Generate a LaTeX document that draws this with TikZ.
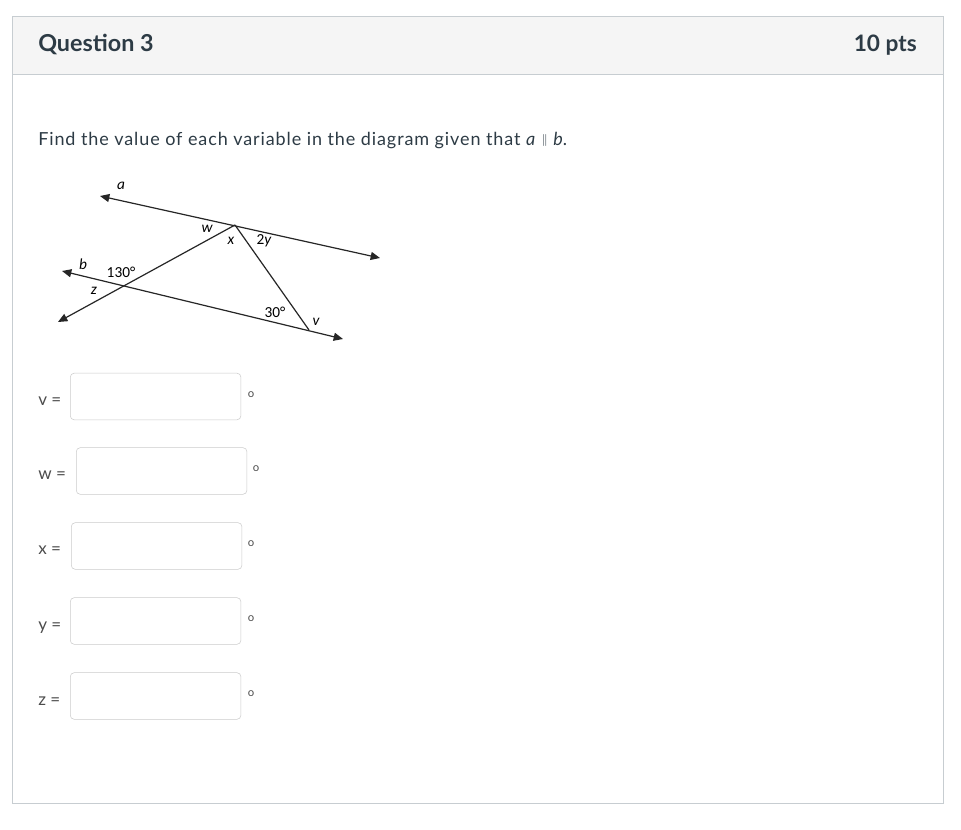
\documentclass[tikz,border=0pt]{standalone}
\usepackage{fontspec}
\setmainfont{Lato}
\newfontfamily\figfont{Carlito}
\newfontfamily\widefont[LetterSpace=5]{Lato}
\usetikzlibrary{arrows.meta}

\definecolor{cardline}{HTML}{C7CDD1}
\definecolor{headfill}{HTML}{F5F5F5}
\definecolor{inktext}{HTML}{2D3B45}
\definecolor{boxline}{HTML}{CBCBCB}

\tikzset{
  figline/.style={line width=0.9pt, black!85},
  tip/.tip={Triangle[length=7pt,width=6pt]},
  anglabel/.style={font=\figfont\fontsize{11.5}{13}\selectfont\itshape, inner sep=0pt},
  ansbox/.style={draw=boxline, rounded corners=3pt, minimum width=128pt, minimum height=35pt, anchor=west, inner sep=0pt},
  anslabel/.style={anchor=base west, inner sep=0pt, text=black!70, font=\fontsize{12.8}{15}\selectfont},
  degmark/.style={inner sep=0pt, text=black!70, font=\fontsize{8.5}{10}\selectfont}
}

\begin{document}
\begin{tikzpicture}[x=0.75pt, y=-0.75pt]
  \useasboundingbox (0,0) rectangle (961,830);

  % card and header
  \fill[white] (0,0) rectangle (961,830);
  \filldraw[fill=headfill, draw=cardline] (12.5,16.5) rectangle (943.5,74.5);
  \draw[cardline] (12.5,74.5) rectangle (943.5,803.5);
  \node[anchor=base west, inner sep=0pt, text=inktext, font=\fontsize{17.5}{20}\selectfont\bfseries] (title) at (38,52) {Question 3};
  \node[anchor=base east, inner sep=0pt, text=inktext, font=\fontsize{17}{20}\selectfont\bfseries] (points) at (917,52) {10 pts};

  \node[anchor=base west, inner sep=0pt, text=inktext, font=\widefont\fontsize{13.5}{15}\selectfont] (prompt) at (38,146)
    {Find the value of each variable in the diagram given that \textit{a} \raisebox{2.2pt}{\fontsize{9}{10}\selectfont$\|$} \textit{b}.};

  % diagram
  \coordinate (a-left) at (100,196);
  \coordinate (a-right) at (380,258);
  \coordinate (b-left) at (62,271);
  \coordinate (b-right) at (343,339);
  \coordinate (top) at (235,225);
  \coordinate (bottom) at (309,330);
  \coordinate (t-left) at (58,322);

  \draw[figline, tip-tip] (a-left) -- (a-right);
  \draw[figline, tip-tip] (b-left) -- (b-right);
  \draw[figline, -tip] (top) -- (t-left);
  \draw[figline] (top) -- (bottom);

  \node[anglabel] (lab-a) at (121,186) {a};
  \node[anglabel] (lab-b) at (83,264) {b};
  \node[anglabel] (lab-w) at (207,229) {w};
  \node[anglabel] (lab-x) at (231,241) {x};
  \node[anglabel] (lab-2y) at (264,241) {\upshape 2\itshape y};
  \node[anglabel] (lab-130) at (121,272) {\upshape 130°};
  \node[anglabel] (lab-z) at (94,291) {z};
  \node[anglabel] (lab-30) at (275,312) {\upshape 30°};
  \node[anglabel] (lab-v) at (316,322) {v};

  % answer rows
  \foreach \var/\bx/\cy/\dx in {v/70/396.5/251, w/76/471/256, x/71/546/251, y/70/621/251, z/70/696/251} {
    \node[anslabel] (lab-\var-row) at (38,\cy+9) {\var\ =};
    \node[ansbox] (box-\var) at (\bx,\cy) {};
    \node[degmark] (deg-\var) at (\dx,\cy-2) {o};
  }
\end{tikzpicture}
\end{document}
